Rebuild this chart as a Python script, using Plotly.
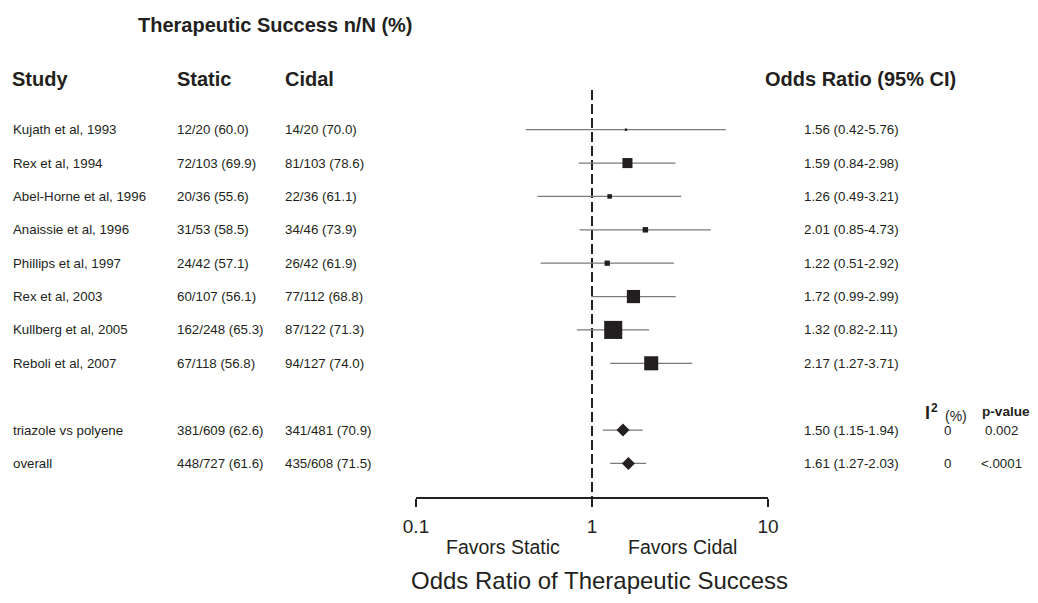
import math
import plotly.graph_objects as go

# ---------------- data ----------------
studies = ["Kujath et al, 1993", "Rex et al, 1994", "Abel-Horne et al, 1996",
           "Anaissie et al, 1996", "Phillips et al, 1997", "Rex et al, 2003",
           "Kullberg et al, 2005", "Reboli et al, 2007"]
static_n = [12, 72, 20, 31, 24, 60, 162, 67]
static_N = [20, 103, 36, 53, 42, 107, 248, 118]
cidal_n = [14, 81, 22, 34, 26, 77, 87, 94]
cidal_N = [20, 103, 36, 46, 42, 112, 122, 127]
or_est = [1.56, 1.59, 1.26, 2.01, 1.22, 1.72, 1.32, 2.17]
or_lo = [0.42, 0.84, 0.49, 0.85, 0.51, 0.99, 0.82, 1.27]
or_hi = [5.76, 2.98, 3.21, 4.73, 2.92, 2.99, 2.11, 3.71]

pooled_labels = ["triazole vs polyene", "overall"]
pooled_static_n = [381, 448]
pooled_static_N = [609, 727]
pooled_cidal_n = [341, 435]
pooled_cidal_N = [481, 608]
pooled_or = [1.50, 1.61]
pooled_lo = [1.15, 1.27]
pooled_hi = [1.94, 2.03]
pooled_i2 = [0, 0]
pooled_p = ["0.002", "<.0001"]

x_ticks = [0.1, 1, 10]
null_or = 1

# ---------------- layout constants (reference pixel positions) ----------------
PAGE_OFF = 8            # page body offset of the figure
W, H = 1038 - PAGE_OFF, 603 - PAGE_OFF
ROW0, STEP = 129.7, 33.37
AXIS_PX = 497.3
X_LEFT, X_RIGHT = 416, 768
INK = "#231f20"
GRAY = "#7a7a7a"
FONT = "Liberation Sans, Arial, sans-serif"
ROW_FONT = 13.3


def row_of(px):
    return (px - ROW0) / STEP


def fx(px):
    return (px - PAGE_OFF) / W


def fy(px):
    return 1 - (px - PAGE_OFF) / H


study_rows = list(range(len(studies)))
pooled_rows = [len(studies) + 1 + i for i in range(len(pooled_labels))]


def frac_text(n, N):
    return f"{n}/{N} ({100 * n / N:.1f})"


def or_text(o, l, h):
    return f"{o:.2f} ({l:.2f}-{h:.2f})"


# inverse-variance weight -> box size
def weight(l, h):
    se = (math.log(h) - math.log(l)) / (2 * 1.96)
    return 1 / se ** 2


sizes = [max(2.3, 1.05 * weight(l, h)) for l, h in zip(or_lo, or_hi)]

fig = go.Figure()

# reference line at OR = 1
fig.add_trace(go.Scatter(
    x=[null_or, null_or], y=[row_of(90), row_of(AXIS_PX)], mode="lines",
    line=dict(color=INK, width=2, dash="10px,4px"), hoverinfo="skip",
    showlegend=False, cliponaxis=False))

fig.add_trace(go.Scatter(
    x=or_est, y=study_rows, mode="markers",
    marker=dict(symbol="square", size=sizes, color=INK, opacity=1, line=dict(width=0)),
    error_x=dict(type="data", symmetric=False,
                 array=[h - o for o, h in zip(or_est, or_hi)],
                 arrayminus=[o - l for o, l in zip(or_est, or_lo)],
                 color=GRAY, thickness=1.3, width=0),
    showlegend=False, cliponaxis=False))

fig.add_trace(go.Scatter(
    x=pooled_or, y=pooled_rows, mode="markers",
    marker=dict(symbol="diamond", size=10, color=INK, opacity=1, line=dict(width=0)),
    error_x=dict(type="data", symmetric=False,
                 array=[h - o for o, h in zip(pooled_or, pooled_hi)],
                 arrayminus=[o - l for o, l in zip(pooled_or, pooled_lo)],
                 color=GRAY, thickness=1.3, width=0),
    showlegend=False, cliponaxis=False))

ann = []


def txt(xpx, y, text, size=ROW_FONT, anchor="left", yref="y", bold=False):
    if bold:
        text = f"<b>{text}</b>"
    ann.append(dict(x=fx(xpx), xref="paper", y=y, yref=yref, text=text,
                    showarrow=False, xanchor=anchor, yanchor="middle",
                    borderpad=0, font=dict(family=FONT, size=size, color=INK)))


# rows
for r, s, sn, sN, cn, cN, o, l, h in zip(study_rows, studies, static_n, static_N,
                                         cidal_n, cidal_N, or_est, or_lo, or_hi):
    txt(12, r, s)
    txt(176, r, frac_text(sn, sN))
    txt(284, r, frac_text(cn, cN))
    txt(851, r, or_text(o, l, h), anchor="center")

for r, s, sn, sN, cn, cN, o, l, h, i2, p in zip(pooled_rows, pooled_labels,
                                               pooled_static_n, pooled_static_N,
                                               pooled_cidal_n, pooled_cidal_N,
                                               pooled_or, pooled_lo, pooled_hi,
                                               pooled_i2, pooled_p):
    txt(12, r, s)
    txt(176, r, frac_text(sn, sN))
    txt(284, r, frac_text(cn, cN))
    txt(851, r, or_text(o, l, h), anchor="center")
    txt(947, r, str(i2), anchor="center")
    txt(1001, r, p, anchor="center")

# headers
txt(137, row_of(25), "Therapeutic Success n/N (%)", size=20, bold=True)
txt(11, row_of(79), "Study", size=20, bold=True)
txt(176, row_of(79), "Static", size=20, bold=True)
txt(284, row_of(79), "Cidal", size=20, bold=True)
txt(764, row_of(79), "Odds Ratio (95% CI)", size=20, bold=True)
txt(924, row_of(413), "I", size=18, bold=True)
txt(930, row_of(408), "2", size=12, bold=True)
txt(944, row_of(416), "(%)", size=14)
txt(981, row_of(411), "p-value", size=13.6, bold=True)

# bottom texts
txt(503, fy(547), "Favors Static", size=19.5, anchor="center", yref="paper")
txt(682, fy(547), "Favors Cidal", size=19.5, anchor="center", yref="paper")
txt(600, fy(580), "Odds Ratio of Therapeutic Success", size=24, anchor="center", yref="paper")

y_top_px, y_bot_px = PAGE_OFF, AXIS_PX

fig.update_layout(
    width=W, height=H, margin=dict(l=0, r=0, t=0, b=0, autoexpand=False),
    paper_bgcolor="white", plot_bgcolor="white",
    font=dict(family=FONT, color=INK),
    annotations=ann,
    xaxis=dict(type="log", range=[-1, 1], domain=[fx(X_LEFT), fx(X_RIGHT)],
               showline=True, linewidth=2, linecolor=INK, ticks="outside",
               ticklen=8, tickwidth=2, tickcolor=INK, tickvals=x_ticks,
               ticktext=[f"{t:g}" for t in x_ticks], ticklabelstandoff=3,
               tickfont=dict(family=FONT, size=19, color=INK),
               showgrid=False, zeroline=False, anchor="y", automargin=False),
    yaxis=dict(domain=[fy(y_bot_px), 1], range=[row_of(y_bot_px), row_of(y_top_px)],
               visible=False, showgrid=False, zeroline=False, automargin=False),
)

fig.write_html("out.html")
